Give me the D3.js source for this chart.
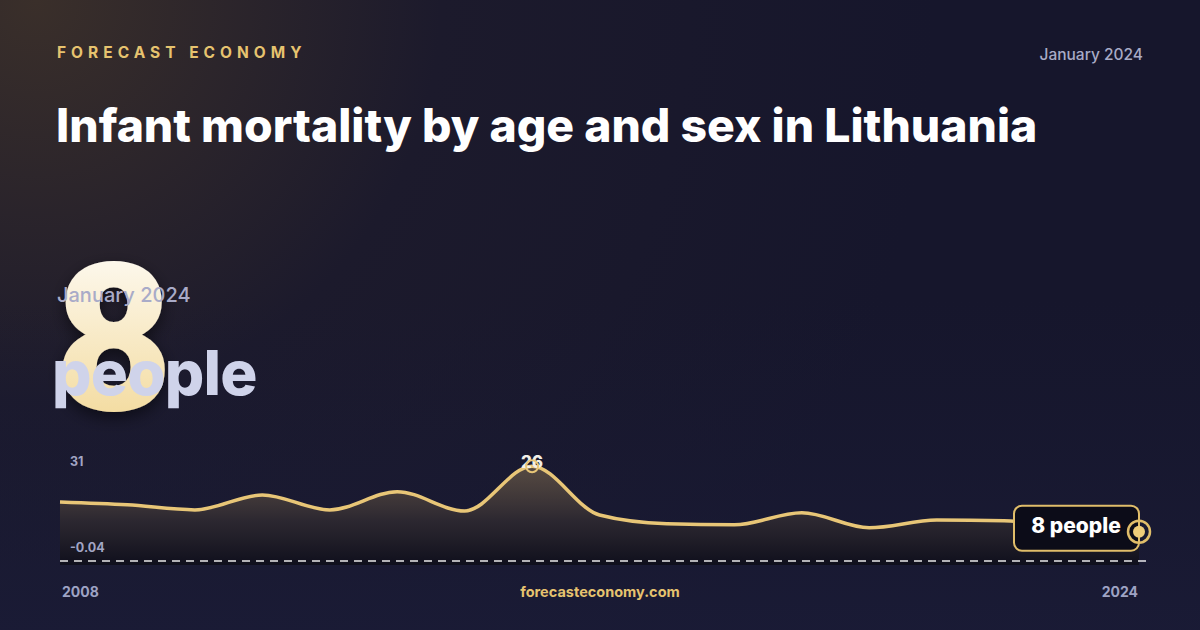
<!DOCTYPE html>
<html><head><meta charset="utf-8">
<script src="https://cdn.jsdelivr.net/npm/d3@7"></script>
<style>
html,body{margin:0;padding:0;background:#16162b;}
svg{display:block;font-family:Inter,"Noto Sans",sans-serif;}
</style></head>
<body>
<svg id="c" width="1200" height="630"></svg>
<script>
const years = [2008,2009,2010,2011,2012,2013,2014,2015,2016,2017,2018,2019,2020,2021,2022,2023,2024];
const values = [16.2,15.4,14.0,18.1,14.0,19.0,13.7,26,12.6,10.2,9.9,13.2,9.1,11.2,11.0,9.6,8];
const yTickLabels = ["31","-0.04"];
const yDomain = [-0.04, 31];
const title = "Infant mortality by age and sex in Lithuania";
const brand = "FORECAST ECONOMY";
const dateLabel = "January 2024";
const bigValue = "8";
const unit = "people";
const site = "forecasteconomy.com";

const svg = d3.select("#c");
const defs = svg.append("defs");

const bg = defs.append("radialGradient").attr("id","bg").attr("cx","0.03").attr("cy","0").attr("r","0.75")
  .attr("gradientTransform","scale(1,1.9)");
bg.append("stop").attr("offset","0").attr("stop-color","#3a2f2a");
bg.append("stop").attr("offset","0.45").attr("stop-color","#1c1a2c");
bg.append("stop").attr("offset","1").attr("stop-color","#16162c");
const bg2 = defs.append("linearGradient").attr("id","bg2").attr("x1",0).attr("y1",0).attr("x2",0).attr("y2",1);
bg2.append("stop").attr("offset","0").attr("stop-color","#191a33").attr("stop-opacity",0);
bg2.append("stop").attr("offset","1").attr("stop-color","#1a1b36").attr("stop-opacity",0.9);

svg.append("rect").attr("width",1200).attr("height",630).attr("fill","url(#bg)");
svg.append("rect").attr("y",300).attr("width",1200).attr("height",330).attr("fill","url(#bg2)");

// header
svg.append("text").attr("x",57).attr("y",58).text(brand)
  .attr("fill","#e6c36f").attr("font-size",15.5).attr("font-weight",700).attr("letter-spacing",5);
svg.append("text").attr("x",1143).attr("y",60).attr("text-anchor","end").text(dateLabel)
  .attr("fill","#a8abc6").attr("font-size",15.5).attr("font-weight",500);
svg.append("text").attr("x",56).attr("y",142).text(title)
  .attr("fill","#ffffff").attr("font-size",46.3).attr("font-weight",800);

// big number
const g8 = defs.append("linearGradient").attr("id","g8").attr("x1",0).attr("y1",0).attr("x2",0).attr("y2",1);
g8.append("stop").attr("offset","0").attr("stop-color","#ffffff");
g8.append("stop").attr("offset","1").attr("stop-color","#f1d48c");
const sh = defs.append("filter").attr("id","sh").attr("x","-30%").attr("y","-30%").attr("width","160%").attr("height","160%");
sh.append("feDropShadow").attr("dx",0).attr("dy",6).attr("stdDeviation",8).attr("flood-color","#000").attr("flood-opacity",0.5);
svg.append("text").attr("x",54).attr("y",410).text(bigValue)
  .attr("fill","url(#g8)").attr("font-size",206).attr("font-weight",900)
  .attr("font-family","Roboto, Inter, sans-serif").attr("filter","url(#sh)");
svg.append("text").attr("x",57).attr("y",302).text(dateLabel)
  .attr("fill","#a9abc8").attr("font-size",20).attr("font-weight",500);
svg.append("text").attr("x",52).attr("y",395).text(unit)
  .attr("fill","#cfd3ea").attr("font-size",62).attr("font-weight",800).attr("letter-spacing",-0.8);

// chart
const x = d3.scaleLinear().domain([years[0], years[years.length-1]]).range([60,1139]);
const y = d3.scaleLinear().domain(yDomain).range([561,448]);
const data = years.map((yr,i)=>({yr, v: values[i]}));

const ag = defs.append("linearGradient").attr("id","ag").attr("x1",0).attr("y1",0).attr("x2",0).attr("y2",1);
ag.append("stop").attr("offset","0").attr("stop-color","#6a5a48").attr("stop-opacity",0.75);
ag.append("stop").attr("offset","0.55").attr("stop-color","#2e2930").attr("stop-opacity",0.9);
ag.append("stop").attr("offset","1").attr("stop-color","#0f0f1c").attr("stop-opacity",1);

const curve = d3.curveMonotoneX;
const area = d3.area().x(d=>x(d.yr)).y0(565).y1(d=>y(d.v)).curve(curve);
const line = d3.line().x(d=>x(d.yr)).y(d=>y(d.v)).curve(curve);

svg.append("path").datum(data).attr("d",area).attr("fill","url(#ag)");
svg.append("line").attr("x1",60).attr("x2",1146).attr("y1",y(yDomain[0])).attr("y2",y(yDomain[0]))
  .attr("stroke","#ffffff").attr("stroke-width",1.3).attr("stroke-dasharray","8,6").attr("opacity",0.9);
svg.append("path").datum(data).attr("d",line).attr("fill","none")
  .attr("stroke","#e8c677").attr("stroke-width",3.5).attr("stroke-linejoin","round");

// y labels
svg.append("text").attr("x",70).attr("y",466).text(yTickLabels[0])
  .attr("fill","#a2a6c4").attr("font-size",12.5).attr("font-weight",700);
svg.append("text").attr("x",70).attr("y",552).text(yTickLabels[1])
  .attr("fill","#a2a6c4").attr("font-size",12.5).attr("font-weight",700);

// peak marker
const maxI = d3.maxIndex(values);
const px = x(years[maxI]), py = y(values[maxI]);
svg.append("text").attr("x",px).attr("y",py+2).attr("text-anchor","middle").text(String(values[maxI]))
  .attr("fill","#f2efe8").attr("font-size",17).attr("font-weight",800);
svg.append("circle").attr("cx",px).attr("cy",py).attr("r",6).attr("fill","none")
  .attr("stroke","#e8c677").attr("stroke-width",2);

// last label
const li = values.length-1;
const lx = x(years[li]), ly = y(values[li]);
svg.append("rect").attr("x",lx-125).attr("y",ly-26).attr("width",125).attr("height",45).attr("rx",8)
  .attr("fill","#0c0c18").attr("stroke","#e0bd6a").attr("stroke-width",2);
svg.append("text").attr("x",lx-63).attr("y",ly-4).attr("text-anchor","middle").attr("dominant-baseline","middle")
  .text(values[li]+" "+unit).attr("fill","#ffffff").attr("font-size",21).attr("font-weight",800);
svg.append("circle").attr("cx",lx).attr("cy",ly).attr("r",11).attr("fill","none")
  .attr("stroke","#e0bd6a").attr("stroke-width",2.5);
svg.append("circle").attr("cx",lx).attr("cy",ly).attr("r",6).attr("fill","#efcd7a");

// footer
svg.append("text").attr("x",62).attr("y",597).text(String(years[0]))
  .attr("fill","#9ea3c4").attr("font-size",14).attr("font-weight",700);
svg.append("text").attr("x",1138).attr("y",597).attr("text-anchor","end").text(String(years[li]))
  .attr("fill","#9ea3c4").attr("font-size",14).attr("font-weight",700);
svg.append("text").attr("x",600).attr("y",597).attr("text-anchor","middle").text(site)
  .attr("fill","#e6c36f").attr("font-size",14.5).attr("font-weight",700);
</script>
</body></html>
